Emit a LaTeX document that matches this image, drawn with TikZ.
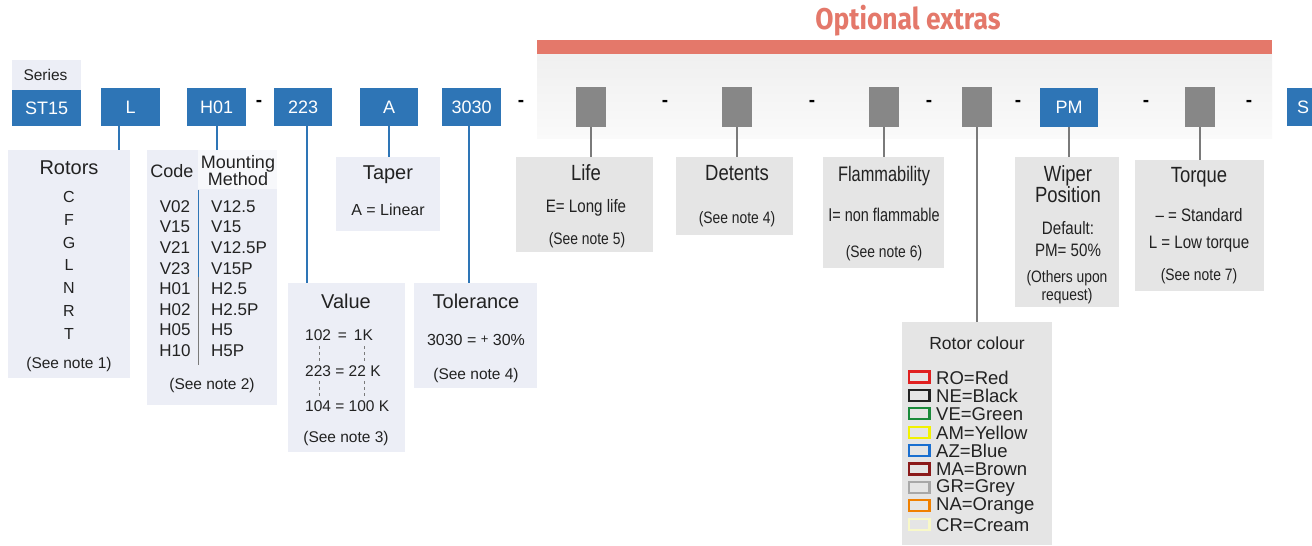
\documentclass[tikz,border=0pt]{standalone}
\usepackage{fontspec}
\setmainfont{Liberation Sans}
\newfontfamily\narrow[FakeStretch=0.84]{Liberation Sans}
\newfontfamily\narrowb[FakeStretch=0.78]{Liberation Sans}
\newfontfamily\titlef[FakeStretch=0.88]{Fira Sans}
\definecolor{blueA}{HTML}{2E75B6}
\definecolor{paleA}{HTML}{ECEEF6}
\definecolor{greyA}{HTML}{E5E5E5}
\definecolor{darkG}{HTML}{878787}
\definecolor{lineG}{HTML}{7A7A7A}
\definecolor{redA}{HTML}{E4786A}
\definecolor{txt}{HTML}{222222}
\definecolor{swR}{HTML}{E02020}
\definecolor{swK}{HTML}{222222}
\definecolor{swG}{HTML}{1A8A3A}
\definecolor{swY}{HTML}{F2F200}
\definecolor{swB}{HTML}{1A6FD0}
\definecolor{swM}{HTML}{8B1A1A}
\definecolor{swE}{HTML}{A8A8A8}
\definecolor{swO}{HTML}{F08000}
\definecolor{swC}{HTML}{F8F8C8}
\newcommand{\fs}[1]{\fontsize{#1}{#1}\selectfont}
\begin{document}
\begin{tikzpicture}[x=1pt,y=-1pt,
  codebox/.style={fill=blueA,text=white,font=\fs{18},inner sep=0,anchor=north west},
  optbox/.style={fill=darkG,inner sep=0,anchor=north west,minimum width=30pt,minimum height=40pt},
  palebox/.style={fill=paleA,inner sep=0,anchor=north west},
  greybox/.style={fill=greyA,inner sep=0,anchor=north west},
  sep/.style={font=\bfseries\fs{19},text=black,inner sep=0},
  bline/.style={draw=blueA,line width=2pt},
  gline/.style={draw=lineG,line width=1.5pt},
  tt/.style={text=txt,inner sep=0,font=\fs{20}},
  tr/.style={text=txt,inner sep=0,font=\fs{16}},
  tn/.style={text=txt,inner sep=0,font=\fs{15.5}},
  nt/.style={text=txt,inner sep=0,font=\narrow\fs{22}},
  nr/.style={text=txt,inner sep=0,font=\narrow\fs{18}},
  nn/.style={text=txt,inner sep=0,font=\narrow\fs{16.5}},
  sw/.style={line width=2.3pt,fill=greyA}
]
\useasboundingbox (0,0) rectangle (1312,546);
\fill[white] (0,0) rectangle (1312,546);

% optional extras band
\node[text=redA,font=\titlef\bfseries\fs{30},inner sep=0] (otitle) at (908,21) {Optional extras};
\fill[redA] (537,40) rectangle (1272,54);
\shade[top color=black!6,bottom color=black!2] (537,54) rectangle (1272,138);

% code boxes
\node[palebox,minimum width=69pt,minimum height=30pt] (series) at (12,60) {};
\node[text=txt,font=\fs{15.5},inner sep=0] (seriest) at (45.5,75) {Series};
\node[codebox,minimum width=69pt,minimum height=36pt] (st) at (12,90) {};
\node[text=white,font=\fs{18},inner sep=0] (stt) at (st.center) {ST15};
\node[codebox,minimum width=59pt,minimum height=38pt] (L) at (101,88) {};
\node[text=white,font=\fs{18},inner sep=0] (Lt) at (L.center) {L};
\node[codebox,minimum width=59pt,minimum height=38pt] (H) at (187,88) {};
\node[text=white,font=\fs{18},inner sep=0] (Ht) at (H.center) {H01};
\node[codebox,minimum width=58pt,minimum height=38pt] (V) at (274,88) {};
\node[text=white,font=\fs{18},inner sep=0] (Vt) at (V.center) {223};
\node[codebox,minimum width=58pt,minimum height=38pt] (A) at (360,88) {};
\node[text=white,font=\fs{18},inner sep=0] (At) at (A.center) {A};
\node[codebox,minimum width=59pt,minimum height=38pt] (T) at (442,88) {};
\node[text=white,font=\fs{18},inner sep=0] (Tt) at (T.center) {3030};
\node[optbox] (g1) at (576,87) {};
\node[optbox] (g2) at (722,87) {};
\node[optbox] (g3) at (869,87) {};
\node[optbox] (g4) at (962,87) {};
\node[codebox,minimum width=58pt,minimum height=39pt] (PM) at (1040,88) {};
\node[text=white,font=\fs{18},inner sep=0] (PMt) at (PM.center) {PM};
\node[optbox] (g6) at (1185,87) {};
\node[codebox,minimum width=34pt,minimum height=38pt] (S) at (1287,88) {};
\node[text=white,font=\fs{18},inner sep=0] (St) at (1303,107) {S};

% separators
\foreach \x [count=\i] in {259,521,665,812,929,1018,1146,1249}
  \node[sep] (d\i) at (\x,103) {-};

% description boxes
\node[palebox,minimum width=122pt,minimum height=228pt] (rot) at (8,150) {};
\node[palebox,minimum width=130pt,minimum height=255pt] (mnt) at (147,150) {};
\fill[white!60!paleA] (198,150) rectangle (277,189);
\node[palebox,minimum width=104pt,minimum height=74pt] (tap) at (336,157) {};
\node[palebox,minimum width=117pt,minimum height=169pt] (val) at (288,283) {};
\node[palebox,minimum width=123pt,minimum height=105pt] (tol) at (414,283) {};
\node[greybox,minimum width=137pt,minimum height=95pt] (life) at (516,157) {};
\node[greybox,minimum width=117pt,minimum height=78pt] (det) at (676,157) {};
\node[greybox,minimum width=121pt,minimum height=111pt] (fla) at (823,157) {};
\node[greybox,minimum width=150pt,minimum height=223pt] (rc) at (902,322) {};
\node[greybox,minimum width=104pt,minimum height=150pt] (wip) at (1015,157) {};
\node[greybox,minimum width=129pt,minimum height=131pt] (tor) at (1135,160) {};

% connectors
\coordinate (xL) at (119,0);
\draw[bline] (L.south -| xL) -- (rot.north -| xL);
\draw[bline] (H.south) -- (mnt.north -| H.south);
\coordinate (xV) at (307,0);
\draw[bline] (V.south -| xV) -- (val.north -| xV);
\coordinate (xA) at (389,0);
\draw[bline] (A.south -| xA) -- (tap.north -| xA);
\coordinate (xT) at (469,0);
\draw[bline] (T.south -| xT) -- (tol.north -| xT);
\draw[gline] (g1.south) -- (life.north -| g1.south);
\draw[gline] (g2.south) -- (det.north -| g2.south);
\draw[gline] (g3.south) -- (fla.north -| g3.south);
\draw[gline] (g4.south) -- (rc.north -| g4.south);
\draw[gline] (PM.south) -- (wip.north -| PM.south);
\draw[gline] (g6.south) -- (tor.north -| g6.south);

% Rotors
\node[tt] (rott) at (69,168) {Rotors};
\foreach \t [count=\i] in {C,F,G,L,N,R,T}
  \node[tr] (rot\i) at (69,{197+22.8*(\i-1)}) {\t};
\node[tn] (rotn) at (69,364) {(See note 1)};

% Code / mounting
\node[text=txt,inner sep=0,font=\fs{18}] (codet) at (172,171) {Code};
\node[text=txt,inner sep=0,font=\fs{18},align=center] (mntt) at (238,171) {Mounting\\[-1pt]Method};
\draw[blueA,line width=0.8pt] (198,190) -- (198,277);
\draw[lineG,line width=0.8pt] (198,277) -- (198,365);
\foreach \c/\m [count=\i] in {V02/V12.5,V15/V15,V21/V12.5P,V23/V15P,H01/H2.5,H02/H2.5P,H05/H5,H10/H5P}{
  \node[tr,font=\fs{17}] (mc\i) at (175,{206.5+20.6*(\i-1)}) {\c};
  \node[tr,font=\fs{17},anchor=west] (mm\i) at (211,{206.5+20.6*(\i-1)}) {\m};
}
\node[tn] (mntn) at (212,385) {(See note 2)};

% Taper
\node[tt] (tapt) at (388,175) {Taper};
\node[tr] (tapa) at (388,210) {A = Linear};

% Value
\node[tt] (valt) at (346,301) {Value};
\node[tr,font=\fs{15.5},anchor=west] (v1) at (305,335) {102\,\ =\ \,1K};
\node[tr,font=\fs{15.5},anchor=west] (v2) at (305,371) {223 = 22 K};
\node[tr,font=\fs{15.5},anchor=west] (v3) at (305,406) {104 = 100 K};
\draw[lineG,line width=0.7pt,dash pattern=on 3pt off 3pt] (319,346) -- (319,362) (319,381) -- (319,396);
\draw[lineG,line width=0.7pt,dash pattern=on 3pt off 3pt] (364,346) -- (364,362) (364,381) -- (364,396);
\node[tn] (valn) at (346,438) {(See note 3)};

% Tolerance
\node[tt] (tolt) at (476,301) {Tolerance};
\node[tr,font=\fs{16}] (tolv) at (476,340) {3030 = \raisebox{2pt}{\fs{13}+} 30\%};
\node[tn] (toln) at (476,375) {(See note 4)};

% Life
\node[nt] (lifet) at (586,173) {Life};
\node[nr] (lifev) at (586,208) {E= Long life};
\node[nn] (lifen) at (587,240) {(See note 5)};

% Detents
\node[nt] (dett) at (737,173) {Detents};
\node[nn] (detn) at (737,219) {(See note 4)};

% Flammability
\node[nt,font=\narrowb\fs{21}] (flat) at (884,176) {Flammability};
\node[nr,font=\narrowb\fs{18.5}] (flav) at (884,215) {I= non flammable};
\node[nn] (flan) at (884,253) {(See note 6)};

% Wiper position
\node[nt,align=center] (wipt) at (1068,184) {Wiper\\[-1pt]Position};
\node[nr] (wip1) at (1068,228) {Default:};
\node[nr] (wip2) at (1068,250) {PM= 50\%};
\node[nn,align=center] (wip3) at (1067,287) {(Others upon\\[1pt]request)};

% Torque
\node[nt] (tort) at (1199,177) {Torque};
\node[nr] (tor1) at (1199,215) {– = Standard};
\node[nr] (tor2) at (1199,244) {L = Low torque};
\node[nn] (torn) at (1199,276) {(See note 7)};

% Rotor colour
\node[tr,font=\fs{17.5}] (rct) at (977,343) {Rotor colour};
\foreach \col/\lab [count=\i] in {swR/RO=Red,swK/NE=Black,swG/VE=Green,swY/AM=Yellow,swB/AZ=Blue,swM/MA=Brown,swE/GR=Grey,swO/NA=Orange,swC/CR=Cream}{
  \draw[sw,draw=\col] (909,{371.5+18.4*(\i-1)}) rectangle (929.5,{382.5+18.4*(\i-1)});
  \node[tr,font=\fs{18.5},anchor=west] (rc\i) at (936,{377.5+18.4*(\i-1)}) {\lab};
}
\end{tikzpicture}
\end{document}
